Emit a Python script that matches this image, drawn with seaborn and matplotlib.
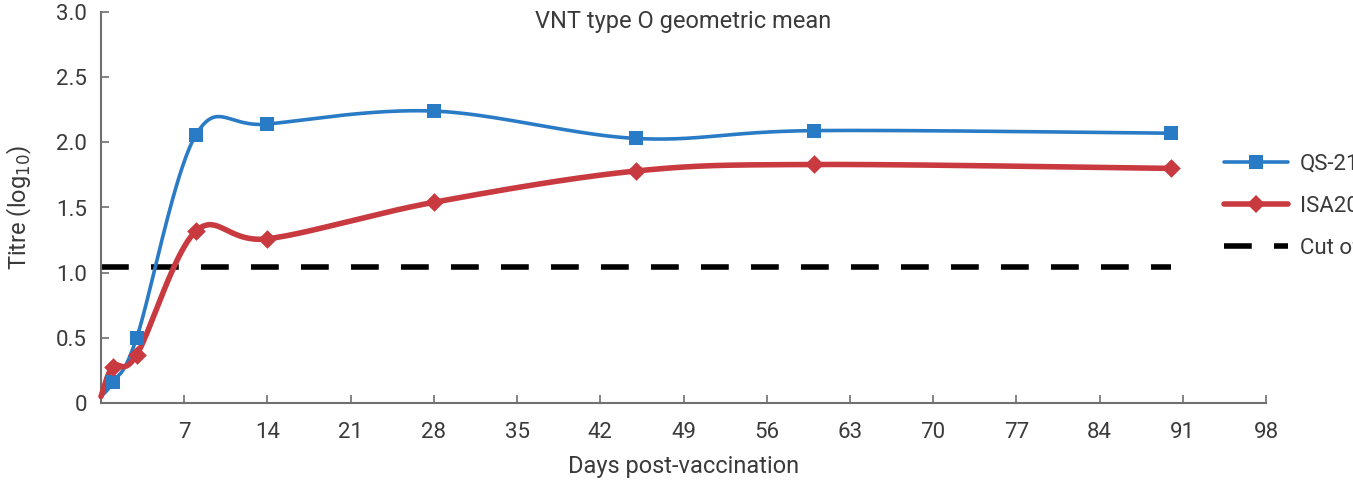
import numpy as np
import pandas as pd
import matplotlib
matplotlib.use("Agg")
import matplotlib.pyplot as plt
from matplotlib.lines import Line2D
import seaborn as sns

# Values
days = [0, 1, 3, 8, 14, 28, 45, 60, 90]
qs21 = [0.05, 0.16, 0.50, 2.06, 2.14, 2.24, 2.03, 2.09, 2.07]
isa206 = [0.05, 0.28, 0.37, 1.32, 1.26, 1.54, 1.78, 1.83, 1.80]
cutoff_days = [0, 90]
cutoff_value = [1.04, 1.04]
x_ticks = [7, 14, 21, 28, 35, 42, 49, 56, 63, 70, 77, 84, 91, 98]
y_ticks = [0, 0.5, 1.0, 1.5, 2.0, 2.5, 3.0]
y_tick_labels = ["0", "0.5", "1.0", "1.5", "2.0", "2.5", "3.0"]

BLUE = "#2a7bc6"
RED = "#c83a3f"
TEXT = "#3a3a3a"
AXIS = "#707070"


def smooth(xs, ys, n=40):
    # Catmull-Rom curve through the points, like a spreadsheet "smoothed line"
    pts = np.column_stack([xs, ys]).astype(float)
    pts = np.vstack([pts[0], pts, pts[-1]])
    out = []
    t = np.linspace(0, 1, n)[:, None]
    for i in range(1, len(pts) - 2):
        p0, p1, p2, p3 = pts[i - 1], pts[i], pts[i + 1], pts[i + 2]
        seg = 0.5 * ((2 * p1) + (-p0 + p2) * t + (2 * p0 - 5 * p1 + 4 * p2 - p3) * t ** 2
                     + (-p0 + 3 * p1 - 3 * p2 + p3) * t ** 3)
        out.append(seg if i == 1 else seg[1:])
    out = np.vstack(out)
    return out[:, 0], out[:, 1]


sns.set_style("ticks")
plt.rcParams['font.family'] = ['Roboto', 'DejaVu Sans']

fig = plt.figure(figsize=(13.53, 4.86), dpi=100)
ax = fig.add_axes([101 / 1353, 1 - 403 / 486, (1266 - 101) / 1353, (403 - 12) / 486])

# Cut-off line
sns.lineplot(x=cutoff_days, y=cutoff_value, ax=ax, color="black", linewidth=4,
             dashes=False, zorder=2).lines[-1].set_dashes([5, 4])

series = [("QS-21", qs21, BLUE, "s", 2.6, 9.5), ("ISA206", isa206, RED, "D", 4.0, 9.5)]
for name, vals, col, mk, lw, ms in series:
    sx, sy = smooth(days, vals)
    curve = pd.DataFrame({"x": sx, "y": sy})
    sns.lineplot(data=curve, x="x", y="y", sort=False, ax=ax, color=col, linewidth=lw,
                 zorder=3, clip_on=False)
    pts = pd.DataFrame({"x": days[1:], "y": vals[1:]})
    sns.scatterplot(data=pts, x="x", y="y", ax=ax, marker=mk, s=ms ** 2, color=col,
                    edgecolor=col, linewidth=0, zorder=4, clip_on=False)

ax.set_xlim(0, 98)
ax.set_ylim(0, 3.0)
ax.set_xticks(x_ticks)
ax.set_xticklabels([str(v) for v in x_ticks])
ax.set_yticks(y_ticks)
ax.set_yticklabels(y_tick_labels)
ax.tick_params(direction="in", length=6, width=1.2, color=AXIS, labelcolor=TEXT, labelsize=16)
ax.tick_params(axis="x", pad=14)
ax.tick_params(axis="y", pad=10)
sns.despine(ax=ax)
for sp in ("left", "bottom"):
    ax.spines[sp].set_color(AXIS)
    ax.spines[sp].set_linewidth(1.5)

ax.set_xlabel("Days post-vaccination", fontsize=17, color=TEXT, labelpad=8)
ax.set_ylabel("Titre (log$_{10}$)", fontsize=17, color=TEXT, labelpad=16)
ax.text(0.5, 0.975, "VNT type O geometric mean", transform=ax.transAxes, ha="center",
        va="center", fontsize=17, color=TEXT)

handles = [
    Line2D([], [], color=BLUE, linewidth=2.6, marker="s", markersize=9.5, markeredgewidth=0),
    Line2D([], [], color=RED, linewidth=4.0, marker="D", markersize=9.5, markeredgewidth=0),
    Line2D([], [], color="black", linewidth=4, dashes=[5, 4]),
]
leg = fig.legend(handles, ["QS-21", "ISA206", "Cut off"], loc="upper left",
                 bbox_to_anchor=(1204 / 1353, 1 - 134 / 486), frameon=False, fontsize=16,
                 handlelength=2.9, handletextpad=0.5, labelspacing=0.95, labelcolor=TEXT)

fig.savefig("out.png", dpi=100)
